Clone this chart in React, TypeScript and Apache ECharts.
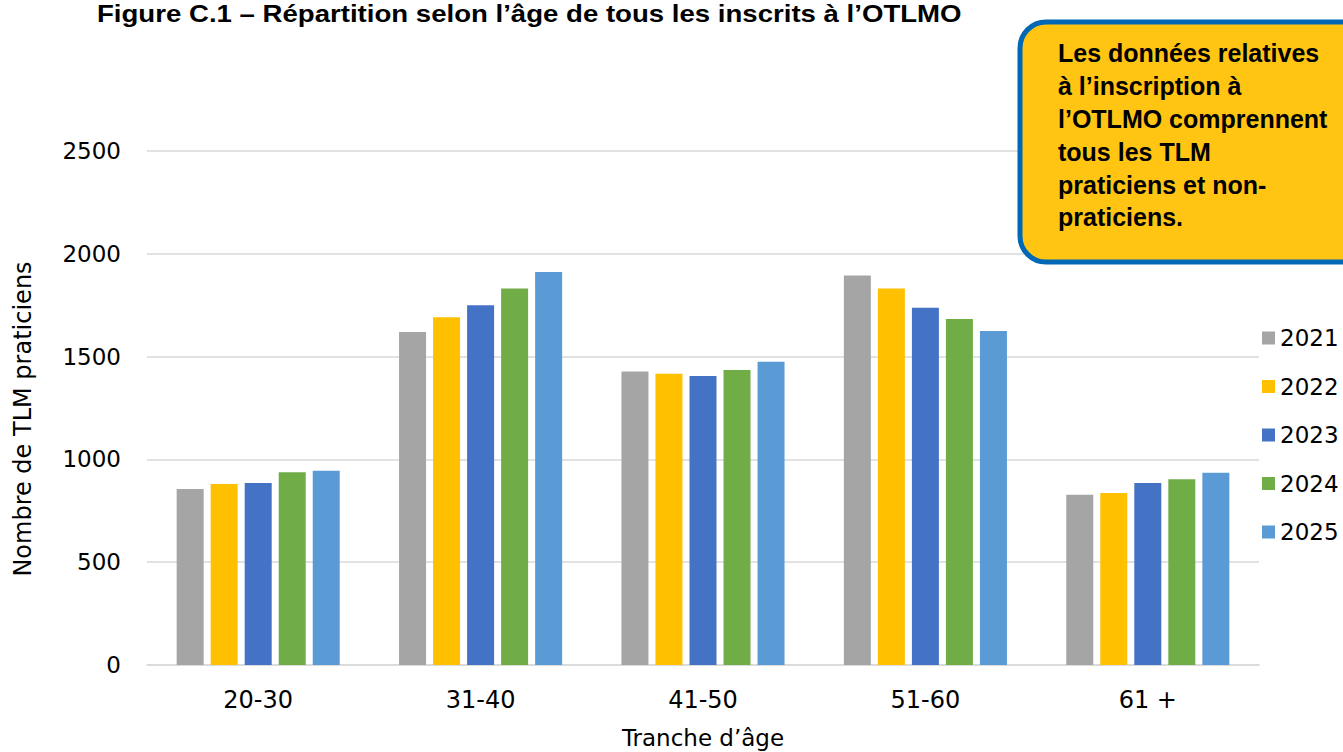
import React, { useEffect, useRef } from "react";
import * as echarts from "echarts";

const categories = ["20-30", "31-40", "41-50", "51-60", "61 +"];
const seriesNames = ["2021", "2022", "2023", "2024", "2025"];
const values2021 = [856, 1620, 1427, 1895, 828];
const values2022 = [880, 1691, 1417, 1831, 837];
const values2023 = [885, 1750, 1406, 1738, 885];
const values2024 = [937, 1831, 1435, 1683, 903];
const values2025 = [945, 1912, 1475, 1625, 935];
const colors = ["#A5A5A5", "#FFC000", "#4472C4", "#70AD47", "#5B9BD5"];

const titleText = "Figure C.1 – Répartition selon l’âge de tous les inscrits à l’OTLMO";
const noteLines = [
  "Les données relatives",
  "à l’inscription à",
  "l’OTLMO comprennent",
  "tous les TLM",
  "praticiens et non-",
  "praticiens.",
];

export default function App() {
  const ref = useRef<HTMLDivElement>(null);
  useEffect(() => {
    if (!ref.current) return;
    const chart = echarts.init(ref.current, null, { renderer: "svg" });
    const all = [values2021, values2022, values2023, values2024, values2025];
    const axisFont = "DejaVu Sans";
    chart.setOption({
      animation: false,
      backgroundColor: "#ffffff",
      grid: {
        left: 147,
        right: 84,
        top: 151,
        bottom: 87,
        containLabel: false,
        outerBoundsMode: "none",
      },
      legend: {
        orient: "vertical",
        left: 1257,
        top: 321,
        itemWidth: 13,
        itemHeight: 13,
        itemGap: 24.5,
        icon: "rect",
        data: seriesNames,
        textStyle: { fontFamily: axisFont, fontSize: 23, color: "#000", lineHeight: 24 },
      },
      xAxis: {
        type: "category",
        data: categories,
        axisLine: { lineStyle: { color: "#D9D9D9", width: 1.5 } },
        axisTick: { show: false },
        axisLabel: { fontFamily: axisFont, fontSize: 24, color: "#000", margin: 23 },
        name: "Tranche d’âge",
        nameLocation: "middle",
        nameGap: 61,
        nameTextStyle: { fontFamily: axisFont, fontSize: 23, color: "#000", lineHeight: 24 },
      },
      yAxis: {
        type: "value",
        min: 0,
        max: 2500,
        interval: 500,
        axisLine: { show: false },
        axisTick: { show: false },
        splitLine: { lineStyle: { color: "#D9D9D9", width: 1.5 } },
        axisLabel: {
          fontFamily: axisFont,
          fontSize: 23,
          color: "#000",
          margin: 26,
          formatter: (v: number) => String(v),
        },
        name: "Nombre de TLM praticiens",
        nameLocation: "middle",
        nameGap: 112,
        nameTextStyle: { fontFamily: axisFont, fontSize: 24, color: "#000", padding: [0, 22, 0, 0] },
      },
      series: seriesNames.map((n, i) => ({
        name: n,
        type: "bar",
        data: all[i],
        barWidth: 27,
        barGap: "26%",
        itemStyle: { color: colors[i] },
      })),
      graphic: [
        {
          type: "text",
          x: 97,
          y: 2,
          scaleX: 1.2,
          style: {
            text: titleText,
            font: "bold 23px 'Liberation Sans', Arial, sans-serif",
            fill: "#000",
            verticalAlign: "top",
            align: "left",
          },
        },
        {
          type: "rect",
          shape: { x: 1020, y: 22, width: 360, height: 240, r: 26 },
          style: { fill: "#FFC512", stroke: "#0068B5", lineWidth: 5 },
          z: 100,
        },
        {
          type: "text",
          x: 1058,
          y: 37,
          z: 101,
          style: {
            text: noteLines.join("\n"),
            font: "bold 25px 'Liberation Sans', Arial, sans-serif",
            lineHeight: 32.8,
            fill: "#000",
            verticalAlign: "top",
            align: "left",
          },
        },
      ],
    });
    return () => chart.dispose();
  }, []);
  return <div ref={ref} style={{ width: 1343, height: 752, position: "absolute", left: 0, top: 0 }} />;
}
